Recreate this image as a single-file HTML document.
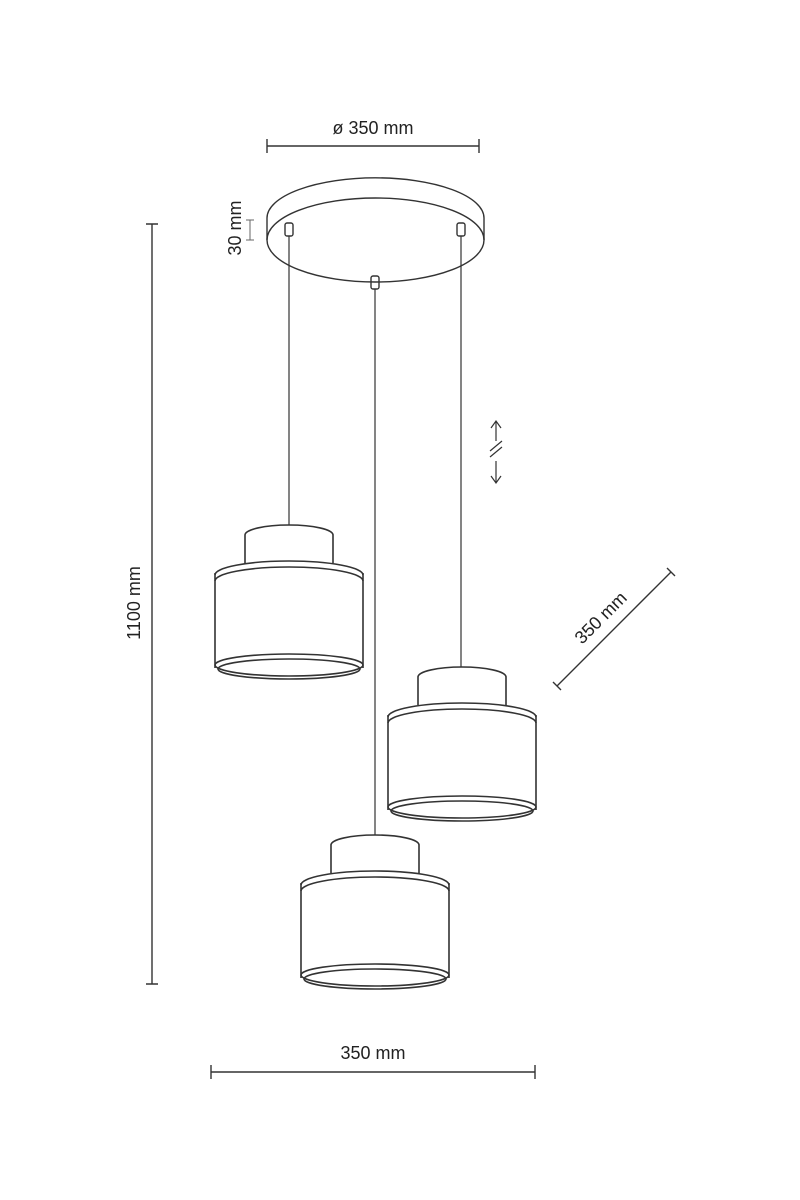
<!DOCTYPE html>
<html><head><meta charset="utf-8"><style>
html,body{margin:0;padding:0;background:#fff;}
svg{display:block;}
text{font-family:"Liberation Sans",sans-serif;fill:#222;font-size:18px;}
</style></head><body>
<svg width="800" height="1200" viewBox="0 0 800 1200" xmlns="http://www.w3.org/2000/svg">
<defs>
<g id="lamp" fill="none" stroke="#333" stroke-width="1.6">
  <path d="M-44,38 L-44,10 A44 10 0 0 1 44,10 L44,38"/>
  <path d="M-74,50 A74 14 0 0 1 74,50"/>
  <path d="M-74,56 A74 14 0 0 1 74,56"/>
  <path d="M-74,48 L-74,143 M74,48 L74,143"/>
  <ellipse cx="0" cy="140" rx="74" ry="11"/>
  <ellipse cx="0" cy="144" rx="71" ry="10"/>
</g>
</defs>
<g fill="none" stroke="#333" stroke-width="1.4">
  <!-- top dim -->
  <path d="M267,146 L479,146 M267,139 L267,153 M479,139 L479,153"/>
  <!-- canopy -->
  <path d="M267,218 A108 40 0 0 1 484,218"/>
  <path d="M267,218 L267,240 M484,218 L484,240"/>
  <ellipse cx="375.5" cy="240" rx="108.5" ry="42"/>
  <!-- connectors -->
  <rect x="285" y="223" width="8" height="13" rx="2"/>
  <rect x="457" y="223" width="8" height="13" rx="2"/>
  <rect x="371" y="276" width="8" height="13" rx="2"/>
  <!-- cables -->
  <path d="M289,236 L289,525 M461,236 L461,667 M375,289 L375,835" stroke-width="1.2"/>
  <!-- 30mm small bar -->
  <path d="M250,220 L250,240 M246,220 L254,220 M246,240 L254,240" stroke="#666" stroke-width="1"/>
  <!-- left vertical dim -->
  <path d="M152,224 L152,984 M146,224 L158,224 M146,984 L158,984"/>
  <!-- bottom dim -->
  <path d="M211,1072 L535,1072 M211,1065 L211,1079 M535,1065 L535,1079"/>
  <!-- diagonal dim -->
  <path d="M557,686 L671,572 M553,682 L561,690 M667,568 L675,576"/>
  <!-- arrows -->
  <path d="M496,422 L496,441 M491,428 L496,421 L501,428" stroke-width="1.2"/>
  <path d="M496,461 L496,482 M491,476 L496,483 L501,476" stroke-width="1.2"/>
  <path d="M490,451 L502,441 M490,457 L502,447" stroke-width="1.2"/>
</g>
<use href="#lamp" x="289" y="525"/>
<use href="#lamp" x="462" y="667"/>
<use href="#lamp" x="375" y="835"/>
<text x="373" y="134" text-anchor="middle">ø 350 mm</text>
<text x="373" y="1059" text-anchor="middle">350 mm</text>
<text transform="translate(140,603) rotate(-90)" text-anchor="middle">1100 mm</text>
<text transform="translate(241,228) rotate(-90)" text-anchor="middle" font-size="17">30 mm</text>
<text transform="translate(605,622) rotate(-45)" text-anchor="middle">350 mm</text>
</svg>
</body></html>
